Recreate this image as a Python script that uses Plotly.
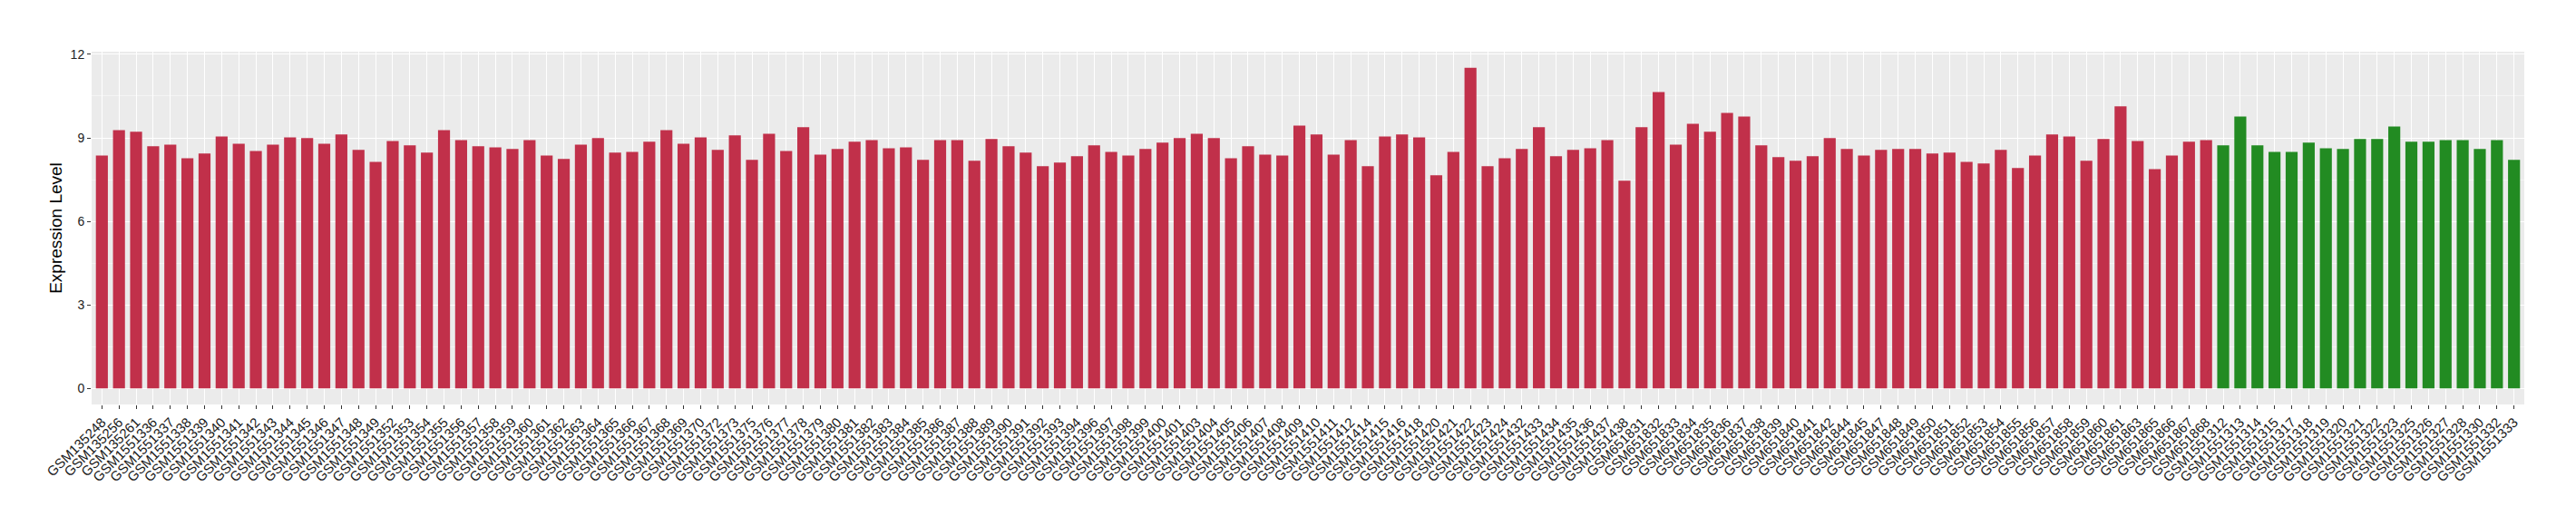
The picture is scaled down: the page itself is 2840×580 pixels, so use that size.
import plotly.graph_objects as go

# ---- data ----
red_samples = [
    "GSM135248", "GSM135256", "GSM135261",
    "GSM1551336", "GSM1551337", "GSM1551338", "GSM1551339", "GSM1551340", "GSM1551341",
    "GSM1551342", "GSM1551343", "GSM1551344", "GSM1551345", "GSM1551346", "GSM1551347",
    "GSM1551348", "GSM1551349",
    "GSM1551352", "GSM1551353", "GSM1551354", "GSM1551355", "GSM1551356", "GSM1551357",
    "GSM1551358", "GSM1551359", "GSM1551360", "GSM1551361", "GSM1551362", "GSM1551363",
    "GSM1551364", "GSM1551365", "GSM1551366", "GSM1551367", "GSM1551368", "GSM1551369",
    "GSM1551370",
    "GSM1551372", "GSM1551373",
    "GSM1551375", "GSM1551376", "GSM1551377", "GSM1551378", "GSM1551379", "GSM1551380",
    "GSM1551381", "GSM1551382", "GSM1551383", "GSM1551384", "GSM1551385", "GSM1551386",
    "GSM1551387", "GSM1551388", "GSM1551389", "GSM1551390", "GSM1551391", "GSM1551392",
    "GSM1551393", "GSM1551394",
    "GSM1551396", "GSM1551397", "GSM1551398", "GSM1551399", "GSM1551400", "GSM1551401",
    "GSM1551403", "GSM1551404", "GSM1551405", "GSM1551406", "GSM1551407", "GSM1551408",
    "GSM1551409", "GSM1551410", "GSM1551411", "GSM1551412",
    "GSM1551414", "GSM1551415", "GSM1551416", "GSM1551418",
    "GSM1551420", "GSM1551421", "GSM1551422", "GSM1551423", "GSM1551424",
    "GSM1551432", "GSM1551433", "GSM1551434", "GSM1551435", "GSM1551436", "GSM1551437",
    "GSM1551438",
    "GSM651831", "GSM651832", "GSM651833", "GSM651834", "GSM651835", "GSM651836",
    "GSM651837", "GSM651838", "GSM651839", "GSM651840", "GSM651841", "GSM651842",
    "GSM651844", "GSM651845",
    "GSM651847", "GSM651848", "GSM651849", "GSM651850", "GSM651851", "GSM651852",
    "GSM651853", "GSM651854", "GSM651855", "GSM651856", "GSM651857", "GSM651858",
    "GSM651859", "GSM651860", "GSM651861",
    "GSM651863",
    "GSM651865", "GSM651866", "GSM651867", "GSM651868",
]
red_values = [
    8.37, 9.28, 9.22, 8.70, 8.76, 8.27, 8.44, 9.05, 8.79, 8.53, 8.76, 9.02, 8.99, 8.79, 9.12,
    8.57, 8.14, 8.89, 8.73, 8.47, 9.28, 8.92, 8.70, 8.66, 8.60, 8.92, 8.37, 8.24, 8.76, 8.99,
    8.47, 8.50, 8.86, 9.28, 8.79, 9.02,
    8.57, 9.09, 8.21, 9.15, 8.53, 9.38, 8.40, 8.60, 8.86, 8.92, 8.63, 8.66, 8.21, 8.92, 8.92,
    8.18, 8.96, 8.70, 8.47, 7.98, 8.11, 8.34, 8.73, 8.50, 8.37, 8.60, 8.83, 8.99, 9.15, 8.99,
    8.27, 8.70, 8.40, 8.37, 9.44,
    9.12, 8.40, 8.92, 7.98, 9.05, 9.12, 9.02, 7.66, 8.50, 11.52, 7.98, 8.27, 8.60, 9.38, 8.34,
    8.57, 8.63, 8.92, 7.46, 9.38, 10.65, 8.76, 9.51, 9.22, 9.90, 9.77, 8.73, 8.31, 8.18, 8.34,
    8.99, 8.60, 8.37, 8.57, 8.60, 8.60,
    8.44, 8.47, 8.14, 8.08, 8.57, 7.92, 8.37, 9.12, 9.05, 8.18, 8.96, 10.13, 8.89, 7.88, 8.37,
    8.86, 8.92,
]
green_samples = [
    "GSM1551312", "GSM1551313", "GSM1551314", "GSM1551315", "GSM1551317", "GSM1551318",
    "GSM1551319", "GSM1551320", "GSM1551321", "GSM1551322", "GSM1551323", "GSM1551325",
    "GSM1551326", "GSM1551327", "GSM1551328", "GSM1551330", "GSM1551332", "GSM1551333",
]
green_values = [
    8.73, 9.77, 8.73, 8.50, 8.50, 8.83, 8.63, 8.60, 8.96, 8.96, 9.41, 8.86, 8.86, 8.92, 8.92,
    8.60, 8.92, 8.21,
]
y_ticks = [0, 3, 6, 9, 12]
y_title = "Expression Level"

RED = "#C1304A"
GREEN = "#228B22"
FONT = "Liberation Sans, Arial, Helvetica, sans-serif"

categories = red_samples + green_samples
n = len(categories)
ymax = max(red_values + green_values)

fig = go.Figure()
fig.add_trace(go.Bar(x=red_samples, y=red_values, marker=dict(color=RED, line=dict(width=0)),
                     showlegend=False, hoverinfo="x+y"))
fig.add_trace(go.Bar(x=green_samples, y=green_values, marker=dict(color=GREEN, line=dict(width=0)),
                     showlegend=False, hoverinfo="x+y"))

fig.update_layout(
    width=2840, height=580,
    margin=dict(l=101, r=57, t=57, b=134, pad=0),
    paper_bgcolor="white",
    plot_bgcolor="#EBEBEB",
    barmode="overlay",
    bargap=0.3,
    font=dict(family=FONT, color="#222222"),
    showlegend=False,
)
fig.update_xaxes(
    type="category",
    categoryorder="array", categoryarray=categories,
    range=[-0.6, n - 1 + 0.6],
    showgrid=True, gridcolor="white", gridwidth=1,
    zeroline=False, showline=False,
    ticks="outside", ticklen=4, tickwidth=1, tickcolor="#333333",
    tickangle=-45,
    tickfont=dict(family=FONT, size=15, color="#1A1A1A"),
    automargin=False,
)
fig.update_yaxes(
    range=[-0.05 * ymax, 1.05 * ymax],
    tickmode="array", tickvals=y_ticks, ticktext=[str(v) for v in y_ticks],
    showgrid=True, gridcolor="white", gridwidth=1.1,
    minor=dict(dtick=1.5, tick0=0, showgrid=True, gridcolor="#F4F4F4", gridwidth=0.8, ticklen=0),
    zeroline=False, showline=False,
    ticks="outside", ticklen=4, tickwidth=1, tickcolor="#333333",
    tickfont=dict(family=FONT, size=14, color="#222222"),
    title=dict(text=y_title, font=dict(family=FONT, size=19, color="black"), standoff=3),
    automargin=False,
)

fig.write_html(
    "out.html",
    config={"displayModeBar": False},
    post_script="document.body.style.margin='0px';document.body.style.overflow='hidden';",
)
